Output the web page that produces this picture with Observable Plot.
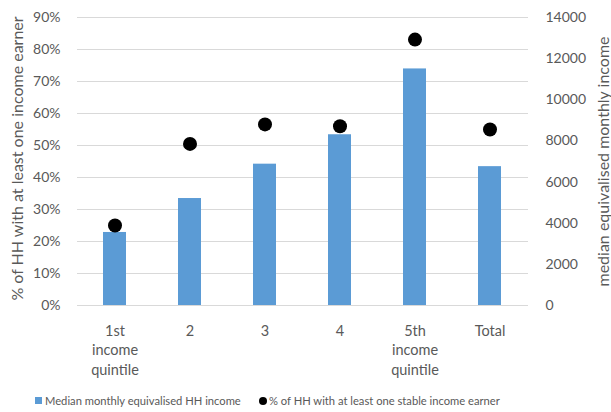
<!DOCTYPE html>
<html>
<head>
<meta charset="utf-8">
<script src="https://cdn.jsdelivr.net/npm/d3@7"></script>
<script src="https://cdn.jsdelivr.net/npm/@observablehq/plot@0.6"></script>
<style>
  html, body { margin: 0; padding: 0; background: #fff; }
  #wrap { position: relative; width: 611px; height: 412px; font-family: Lato, sans-serif; }
  #legend { position: absolute; left: 35px; top: 394px; font-size: 11.2px; color: #595959; white-space: nowrap; }
  #legend span.item { position: absolute; top: 0; display: flex; align-items: center; }
  .sw { display: inline-block; width: 7px; height: 7px; background: #5b9bd5; margin-right: 3px; }
  .dt { display: inline-block; width: 8px; height: 8px; border-radius: 50%; background: #000; margin-right: 2px; }
</style>
</head>
<body>
<div id="wrap">
  <div id="chart"></div>
  <div id="legend">
    <span class="item" style="left:0px"><span class="sw"></span>Median monthly equivalised HH income</span>
    <span class="item" style="left:224px"><span class="dt"></span>% of HH with at least one stable income earner</span>
  </div>
</div>
<script>
const categories = ["1st income quintile", "2", "3", "4", "5th income quintile", "Total"];
const categoryLabels = ["1st\nincome\nquintile", "2", "3", "4", "5th\nincome\nquintile", "Total"];
const medianIncome = [3550, 5200, 6870, 8300, 11500, 6750];
const pctStableEarner = [25.0, 50.5, 56.6, 56.0, 83.1, 55.0];
const pctTicks = [0, 10, 20, 30, 40, 50, 60, 70, 80, 90];
const incomeTicks = [0, 2000, 4000, 6000, 8000, 10000, 12000, 14000];
const pctMax = 90, incomeMax = 14000;

const ratio = pctMax / incomeMax;
const data = categories.map((c, i) => ({cat: c, label: categoryLabels[i], income: medianIncome[i], pct: pctStableEarner[i]}));

const chart = Plot.plot({
  width: 611,
  height: 388,
  marginTop: 17,
  marginBottom: 83,
  marginLeft: 77,
  marginRight: 83,
  style: {fontFamily: "Lato, sans-serif", fontSize: "14px", color: "#595959", background: "white", overflow: "visible"},
  x: {domain: categories, paddingInner: 0.69, paddingOuter: 0.345, axis: null},
  y: {domain: [0, pctMax], axis: null},
  marks: [
    Plot.ruleY(pctTicks, {stroke: "#d9d9d9", strokeWidth: 1}),
    Plot.barY(data, {x: "cat", y: d => d.income * ratio, fill: "#5b9bd5"}),
    Plot.dot(data, {x: "cat", y: "pct", r: 7, fill: "#000", stroke: null}),
    Plot.axisY(pctTicks, {anchor: "left", tickSize: 0, tickPadding: 17, tickFormat: d => d + "%", label: null, fontSize: 14, fill: "#595959"}),
    Plot.axisY(incomeTicks.map(v => v * ratio), {anchor: "right", tickSize: 0, tickPadding: 17, tickFormat: d => String(Math.round(d / ratio)), label: null, fontSize: 14, fill: "#595959"}),
    Plot.text(data, {x: "cat", text: "label", frameAnchor: "bottom", lineAnchor: "top", dy: 16, lineHeight: 1.36, fontSize: 14.5, fill: "#595959"}),
    Plot.text(["% of HH with at least one income earner"], {frameAnchor: "left", textAnchor: "middle", dx: -60, dy: -3, rotate: -90, fontSize: 16, fill: "#595959"}),
    Plot.text(["median equivalised monthly income"], {frameAnchor: "right", textAnchor: "middle", dx: 75, rotate: -90, fontSize: 16, fill: "#595959"})
  ]
});
document.getElementById("chart").appendChild(chart);
</script>
</body>
</html>
